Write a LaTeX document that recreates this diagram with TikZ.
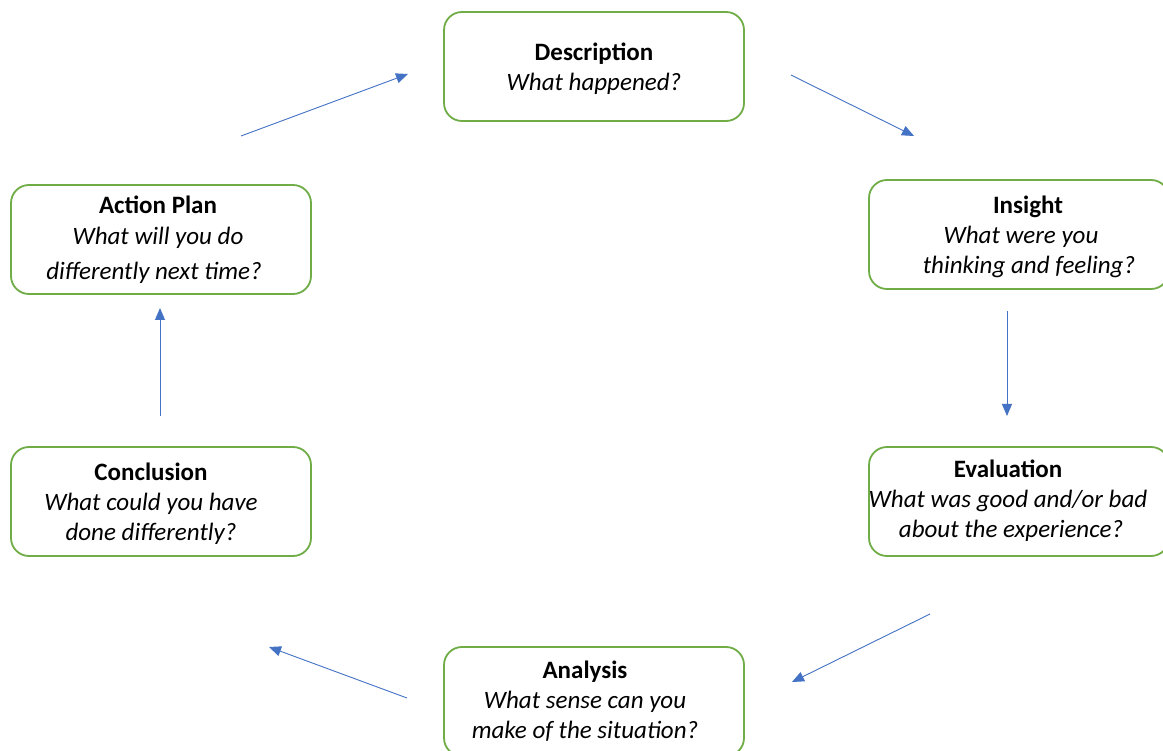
\documentclass[tikz,border=0pt]{standalone}
\usepackage{fontspec}
\setmainfont{Carlito}
\usetikzlibrary{arrows.meta}
\definecolor{boxgreen}{HTML}{70AD47}
\definecolor{arrowblue}{HTML}{4472C4}
\begin{document}
\begin{tikzpicture}[x=1pt,y=-1pt,
  stage/.style={draw=boxgreen, line width=1.8pt, rounded corners=18pt, minimum width=300pt, minimum height=109pt, inner sep=0pt},
  stagetext/.style={align=center, inner sep=0pt, font=\fontsize{25}{30}\selectfont},
  flow/.style={draw=arrowblue, line width=0.9pt, -{Triangle[length=12pt,width=10pt]}}]
\useasboundingbox (0,0) rectangle (1163,751);
\fill[white] (0,0) rectangle (1163,751);
\node[stage] (desc) at (594,66.5) {};
\node[stage] (ins) at (1019,234.5) {};
\node[stage] (eval) at (1019,501.5) {};
\node[stage] (ana) at (594,701.5) {};
\node[stage] (conc) at (161,501.5) {};
\node[stage] (act) at (161,239.5) {};
\node[stagetext] (desct) at ([shift={(0,2)}]desc.center) {\textbf{Description}\\\textit{What happened?}};
\node[stagetext] (inst) at ([shift={(2,2)}]ins.center) {\hspace*{14pt}\textbf{Insight}\\\textit{What were you}\hspace*{16pt}\\\hspace*{16pt}\textit{thinking and feeling?}};
\node[stagetext] (evalt) at ([shift={(-11,-1)}]eval.center) {\textbf{Evaluation}\\\textit{What was good and/or bad}\\\hspace*{6pt}\textit{about the experience?}};
\node[stagetext] (anat) at ([shift={(-9,0)}]ana.center) {\textbf{Analysis}\\\textit{What sense can you}\\\textit{make of the situation?}};
\node[stagetext] (conct) at ([shift={(-10,2)}]conc.center) {\textbf{Conclusion}\\\textit{What could you have}\\\textit{done differently?}};
\node[stagetext] (actt) at ([shift={(-3,0)}]act.center) {\textbf{Action Plan}\\[1pt]\textit{What will you do}\\[5pt]\hspace*{-8pt}\textit{differently next time?}};
\coordinate (a1s) at (241,136); \coordinate (a1e) at (408,74);
\coordinate (a2s) at (791,75);  \coordinate (a2e) at (914,136);
\coordinate (a3s) at (1007,311); \coordinate (a3e) at (1007,416);
\coordinate (a4s) at (930,614); \coordinate (a4e) at (792,682);
\coordinate (a5s) at (407,698); \coordinate (a5e) at (269,647);
\coordinate (a6s) at (160,416); \coordinate (a6e) at (160,308);
\draw[flow] (a1s) -- (a1e);
\draw[flow] (a2s) -- (a2e);
\draw[flow] (a3s) -- (a3e);
\draw[flow] (a4s) -- (a4e);
\draw[flow] (a5s) -- (a5e);
\draw[flow] (a6s) -- (a6e);
\end{tikzpicture}
\end{document}
